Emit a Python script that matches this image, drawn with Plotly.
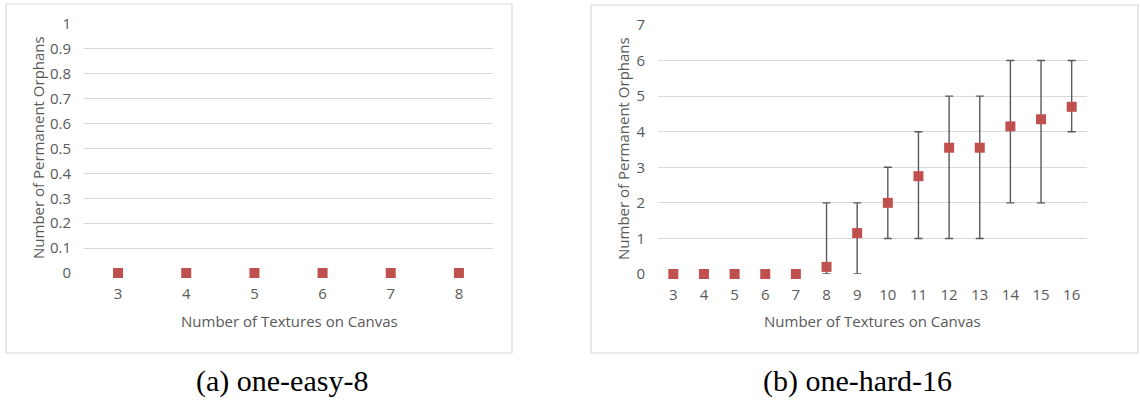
import plotly.graph_objects as go

W, H = 1140, 404

# ---- data ----
textures_easy = [3, 4, 5, 6, 7, 8]
orphans_easy = [0, 0, 0, 0, 0, 0]

textures_hard = [3, 4, 5, 6, 7, 8, 9, 10, 11, 12, 13, 14, 15, 16]
orphans_hard = [0, 0, 0, 0, 0, 0.2, 1.15, 2.0, 2.75, 3.55, 3.55, 4.15, 4.35, 4.7]
orphans_hard_min = [0, 0, 0, 0, 0, 0, 0, 1, 1, 1, 1, 2, 2, 4]
orphans_hard_max = [0, 0, 0, 0, 0, 2, 2, 3, 4, 5, 5, 6, 6, 6]

y_ticks_easy = [0, 0.1, 0.2, 0.3, 0.4, 0.5, 0.6, 0.7, 0.8, 0.9, 1]
y_ticks_hard = [0, 1, 2, 3, 4, 5, 6, 7]

captions = ["(a) one-easy-8", "(b) one-hard-16"]
x_title = "Number of Textures on Canvas"
y_title = "Number of Permanent Orphans"

# ---- style ----
MARK = "#C0504D"
GRID = "#D9D9D9"
TXT = "#595959"
FONT = "Open Sans, Liberation Sans, sans-serif"

def px_x(p):
    return p / W

def px_y(p):
    return 1 - p / H

err_plus = [mx - v for mx, v in zip(orphans_hard_max, orphans_hard)]
err_minus = [v - mn for mn, v in zip(orphans_hard_min, orphans_hard)]
has_err = [mx > mn for mn, mx in zip(orphans_hard_min, orphans_hard_max)]
err_plus = [e if h else None for e, h in zip(err_plus, has_err)]
err_minus = [e if h else None for e, h in zip(err_minus, has_err)]

fig = go.Figure()
fig.add_trace(go.Scatter(
    x=textures_easy, y=orphans_easy, mode="markers",
    marker=dict(symbol="square", size=10, color=MARK, line=dict(width=0)),
    xaxis="x", yaxis="y", showlegend=False, cliponaxis=False,
))
fig.add_trace(go.Scatter(
    x=textures_hard, y=orphans_hard, mode="markers",
    marker=dict(symbol="square", size=10, color=MARK, line=dict(width=0)),
    error_y=dict(type="data", symmetric=False, array=err_plus, arrayminus=err_minus,
                 color="#595959", thickness=1.4, width=4),
    xaxis="x2", yaxis="y2", showlegend=False, cliponaxis=False,
))

axis_common = dict(showline=False, zeroline=False, ticks="", automargin=False,
                   tickfont=dict(family=FONT, size=15, color=TXT))

fig.update_layout(
    template="none",
    width=W, height=H, autosize=False,
    margin=dict(l=0, r=0, t=0, b=0, pad=0, autoexpand=False),
    paper_bgcolor="white", plot_bgcolor="white",
    showlegend=False,
    xaxis=dict(domain=[px_x(84), px_x(493)], range=[2.5, 8.5], tickvals=textures_easy,
               showgrid=False, anchor="y", ticklabelstandoff=10, **axis_common),
    yaxis=dict(domain=[px_y(273), px_y(24)], range=[0, 1], tickvals=y_ticks_easy,
               showgrid=True, gridcolor=GRID, gridwidth=1, anchor="x",
               ticklabelstandoff=12, **axis_common),
    xaxis2=dict(domain=[px_x(658), px_x(1087)], range=[2.5, 16.5], tickvals=textures_hard,
                showgrid=False, anchor="y2", ticklabelstandoff=10, **axis_common),
    yaxis2=dict(domain=[px_y(274), px_y(25)], range=[0, 7], tickvals=y_ticks_hard,
                showgrid=True, gridcolor=GRID, gridwidth=1, anchor="x2",
                ticklabelstandoff=12, **axis_common),
)

# panel borders
for x0, y0, x1, y1 in [(6, 4, 512, 353), (591, 5, 1138, 353)]:
    fig.add_shape(type="rect", xref="paper", yref="paper",
                  x0=px_x(x0), x1=px_x(x1), y0=px_y(y1), y1=px_y(y0),
                  line=dict(color=GRID, width=1.2), fillcolor="rgba(0,0,0,0)", layer="below")

tf = dict(family=FONT, size=15, color=TXT)
# axis titles
for cx, cy in [(289, 321), (872, 321)]:
    fig.add_annotation(text=x_title, x=px_x(cx), y=px_y(cy), xref="paper", yref="paper",
                       showarrow=False, font=tf, xanchor="center", yanchor="middle")
for cx, cy in [(38, 148), (623, 149)]:
    fig.add_annotation(text=y_title, x=px_x(cx), y=px_y(cy), xref="paper", yref="paper",
                       showarrow=False, font=tf, textangle=-90, xanchor="center", yanchor="middle")

# captions
cf = dict(family="Liberation Serif, Times New Roman, serif", size=30, color="black")
for txt, cx in zip(captions, [282, 857]):
    fig.add_annotation(text=txt, x=px_x(cx), y=px_y(381), xref="paper", yref="paper",
                       showarrow=False, font=cf, xanchor="center", yanchor="middle")

fig.write_html("out.html", config=dict(displayModeBar=False),
               post_script="document.body.style.margin='0px';document.body.style.overflow='hidden';")
